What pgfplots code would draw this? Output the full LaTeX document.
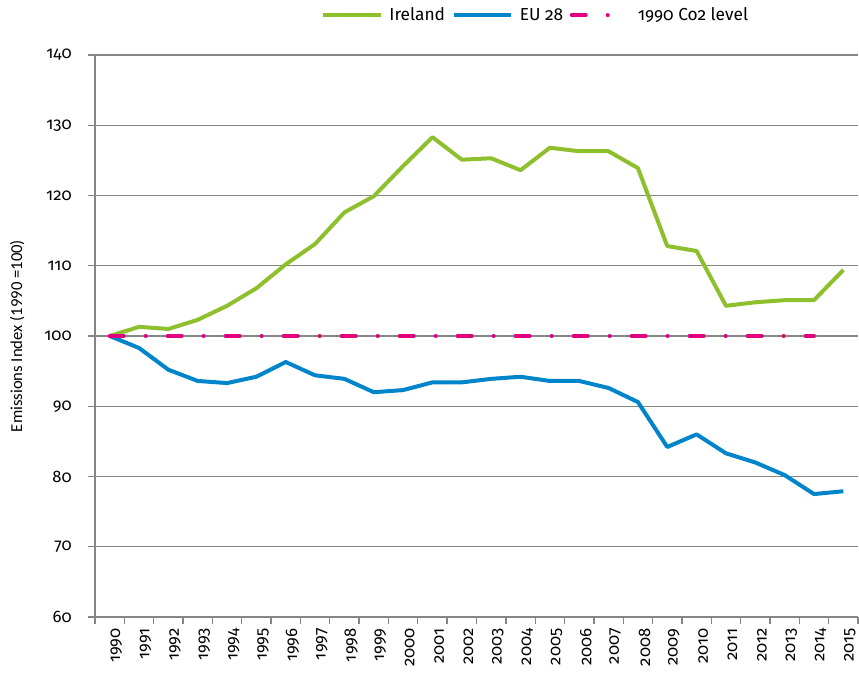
\documentclass[border=0pt]{standalone}
\usepackage{fontspec}
\setmainfont{Fira Sans}[Numbers=OldStyle]
\newfontfamily\labelfont{Carlito}
\usepackage{pgfplots}
\pgfplotsset{compat=1.18}
\definecolor{irl}{RGB}{141,192,44}
\definecolor{eu}{RGB}{0,133,202}
\definecolor{ref}{RGB}{227,0,126}
\definecolor{gridgray}{RGB}{134,134,134}

\begin{document}
\begin{tikzpicture}
\useasboundingbox (-71.25pt,-43.5pt) rectangle (573pt,462.75pt);
\begin{axis}[
    scale only axis,
    width=572.25pt, height=421.5pt,
    xmin=1989.5, xmax=2015.5,
    ymin=60, ymax=140,
    ytick={60,70,...,140},
    xtick={1990,...,2015},
    xticklabels={1990,1991,1992,1993,1994,1995,1996,1997,1998,1999,2000,2001,2002,2003,2004,2005,2006,2007,2008,2009,2010,2011,2012,2013,2014,2015},
    minor xtick={1989.5,1990.5,...,2015.5},
    axis lines*=left,
    axis line style={draw=gridgray, line width=1pt, -},
    tick align=outside,
    major x tick style={draw=none},
    minor tick length=5pt,
    major tick length=5pt,
    tick style={draw=gridgray, line width=1pt},
    ymajorgrids,
    grid style={draw=gridgray, line width=0.9pt},
    font=\fontsize{12.5}{15}\selectfont,
    /pgf/number format/assume math mode=true,
    yticklabel style={xshift=-9pt},
    xticklabel style={rotate=90, anchor=east, yshift=-5pt},
    ylabel={\labelfont Emissions Index (1990 =100)},
    ylabel style={font=\fontsize{14}{15}\selectfont},
    every axis y label/.style={at={(ticklabel cs:0.5)}, rotate=90, anchor=south, yshift=8pt},
    legend columns=-1,
    legend style={draw=none, fill=none, at={(0.865,1.071)}, anchor=east,
        font=\fontsize{13}{15}\selectfont, column sep=3pt},
    legend image code/.code={\draw[#1] (0pt,0pt) -- (43pt,0pt);},
    line join=round,
    clip=false,
]
\addplot[irl, line width=3pt] coordinates {
(1990,100) (1991,101.3) (1992,101.0) (1993,102.3) (1994,104.3) (1995,106.8)
(1996,110.2) (1997,113.1) (1998,117.6) (1999,119.9) (2000,124.2) (2001,128.3)
(2002,125.1) (2003,125.3) (2004,123.6) (2005,126.8) (2006,126.3) (2007,126.3)
(2008,123.9) (2009,112.8) (2010,112.1) (2011,104.3) (2012,104.8) (2013,105.1)
(2014,105.1) (2015,109.4)};
\addlegendentry{Ireland}
\addplot[eu, line width=3pt] coordinates {
(1990,100) (1991,98.3) (1992,95.2) (1993,93.6) (1994,93.3) (1995,94.2)
(1996,96.3) (1997,94.4) (1998,93.9) (1999,92.0) (2000,92.3) (2001,93.4)
(2002,93.4) (2003,93.9) (2004,94.2) (2005,93.6) (2006,93.6) (2007,92.6)
(2008,90.6) (2009,84.2) (2010,86.0) (2011,83.3) (2012,82.0) (2013,80.2)
(2014,77.5) (2015,77.9)};
\addlegendentry{EU 28}
\addplot[ref, line width=3pt, line cap=round,
    dash pattern=on 10.5pt off 16.5pt on 0pt off 16.5pt] coordinates {
(1990,100) (1991,100) (1992,100) (1993,100) (1994,100) (1995,100)
(1996,100) (1997,100) (1998,100) (1999,100) (2000,100) (2001,100)
(2002,100) (2003,100) (2004,100) (2005,100) (2006,100) (2007,100)
(2008,100) (2009,100) (2010,100) (2011,100) (2012,100) (2013,100)
(2014,100)};
\addlegendentry{1990 Co2 level}
\end{axis}
\end{tikzpicture}
\end{document}
